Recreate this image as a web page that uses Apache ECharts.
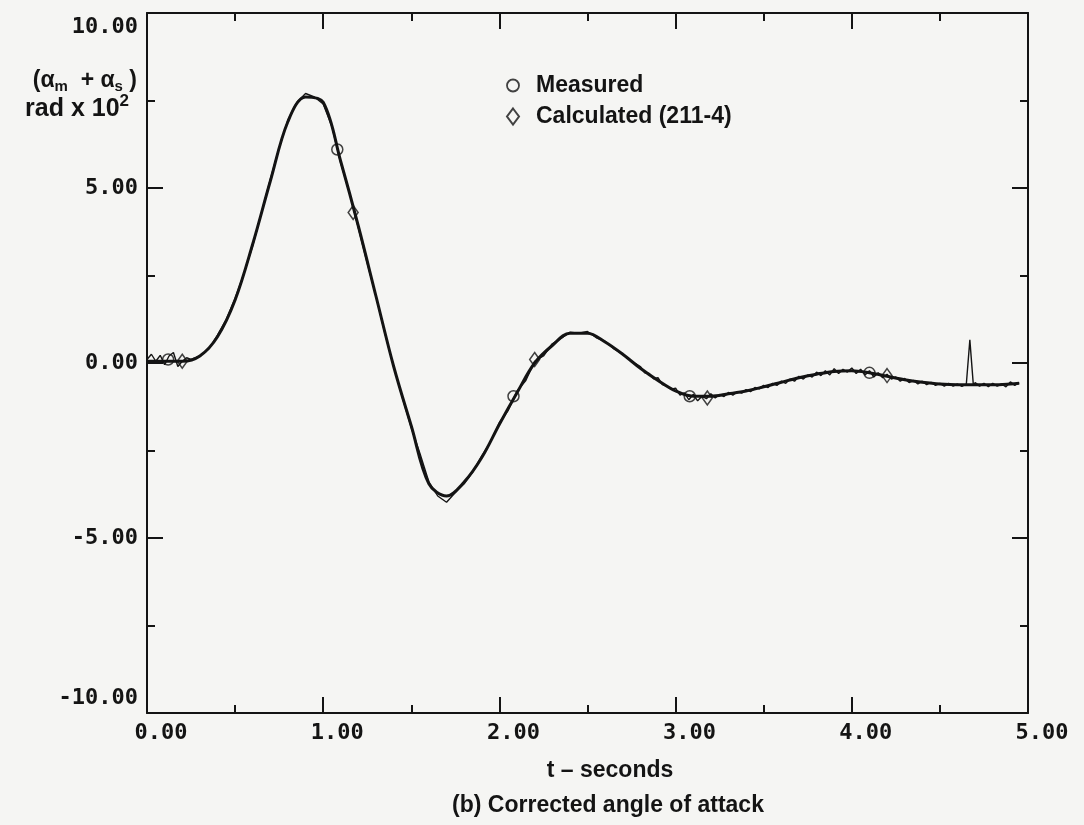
<!DOCTYPE html>
<html>
<head>
<meta charset="utf-8">
<script src="https://cdn.jsdelivr.net/npm/echarts@6/dist/echarts.min.js"></script>
<style>
  html, body { margin: 0; padding: 0; background: #f5f5f3; }
  #chart { width: 1084px; height: 825px; }
</style>
</head>
<body>
<div id="chart"></div>
<script>
// ---- data ----
const calcT = [0.0,0.1,0.2,0.3,0.4,0.5,0.6,0.7,0.8,0.9,1.0,1.1,1.2,1.3,1.4,1.5,1.6,1.7,1.8,1.9,2.0,2.1,2.2,2.3,2.4,2.5,2.6,2.7,2.8,2.9,3.0,3.1,3.2,3.3,3.4,3.5,3.6,3.7,3.8,3.9,4.0,4.1,4.2,4.3,4.4,4.5,4.6,4.7,4.8,4.9,4.95];
const calcV = [0.05,0.05,0.05,0.2,0.75,1.8,3.4,5.2,6.9,7.6,7.45,5.75,3.9,1.9,-0.1,-1.8,-3.45,-3.8,-3.4,-2.7,-1.75,-0.85,0.0,0.5,0.85,0.85,0.6,0.25,-0.15,-0.5,-0.8,-0.95,-0.95,-0.88,-0.8,-0.68,-0.55,-0.42,-0.32,-0.24,-0.22,-0.28,-0.38,-0.48,-0.55,-0.6,-0.62,-0.62,-0.62,-0.6,-0.58];

const measT = [0.000,0.025,0.050,0.075,0.100,0.125,0.150,0.175,0.200,0.225,0.250,0.30,0.35,0.40,0.45,0.50,0.55,0.60,0.65,0.70,0.75,0.80,0.85,0.90,0.95,
  1.00,1.05,1.10,1.15,1.20,1.25,1.30,1.35,1.40,1.45,1.50,1.55,1.60,1.65,1.70,1.75,1.80,1.85,1.90,1.95,
  2.00,2.05,2.10,2.15,2.20,2.25,2.30,2.35,2.40,2.45,2.50,2.55,2.60,2.65,2.70,2.75,
  2.800,2.825,2.850,2.875,2.900,2.925,2.950,2.975,3.000,3.025,3.050,3.075,3.100,3.125,3.150,3.175,3.200,3.225,3.250,3.275,
  3.300,3.325,3.350,3.375,3.400,3.425,3.450,3.475,3.500,3.525,3.550,3.575,3.600,3.625,3.650,3.675,3.700,3.725,3.750,3.775,
  3.800,3.825,3.850,3.875,3.900,3.925,3.950,3.975,4.000,4.025,4.050,4.075,4.100,4.125,4.150,4.175,4.200,4.225,4.250,4.275,
  4.300,4.325,4.350,4.375,4.400,4.425,4.450,4.475,4.500,4.525,4.550,4.575,4.600,4.625,4.650,4.670,4.690,4.700,4.725,4.750,
  4.775,4.800,4.825,4.850,4.875,4.900,4.925,4.950];
const measV = [0.10,0.25,0.05,0.22,-0.05,0.20,0.30,-0.10,0.05,0.15,0.10,0.20,0.40,0.80,1.25,1.85,2.55,3.35,4.30,5.25,6.15,6.95,7.45,7.70,7.60,
  7.40,6.75,5.70,4.85,3.85,2.85,1.90,0.85,-0.10,-1.00,-1.85,-2.60,-3.40,-3.80,-3.98,-3.70,-3.45,-3.10,-2.65,-2.25,
  -1.70,-1.35,-0.80,-0.50,0.05,0.20,0.55,0.70,0.88,0.85,0.90,0.72,0.62,0.40,0.25,0.05,
  -0.10,-0.28,-0.30,-0.45,-0.42,-0.62,-0.66,-0.75,-0.72,-0.92,-0.85,-1.05,-0.90,-1.08,-0.95,-1.02,-0.88,-1.00,-0.90,-0.96,
  -0.84,-0.92,-0.82,-0.86,-0.76,-0.82,-0.70,-0.74,-0.64,-0.70,-0.58,-0.64,-0.52,-0.58,-0.46,-0.52,-0.38,-0.46,-0.34,-0.40,
  -0.26,-0.36,-0.22,-0.34,-0.16,-0.30,-0.18,-0.26,-0.14,-0.30,-0.18,-0.34,-0.22,-0.40,-0.28,-0.42,-0.32,-0.46,-0.40,-0.52,
  -0.44,-0.56,-0.50,-0.60,-0.52,-0.62,-0.55,-0.64,-0.58,-0.66,-0.58,-0.66,-0.60,-0.67,-0.60,0.66,-0.64,-0.56,-0.66,-0.58,
  -0.68,-0.58,-0.66,-0.60,-0.68,-0.54,-0.64,-0.56];

const measMarkT = [0.12, 1.08, 2.08, 3.08, 4.10];
const measMarkV = [0.10, 6.10, -0.95, -0.95, -0.28];
const calcMarkT = [0.20, 1.17, 2.20, 3.18, 4.20];
const calcMarkV = [0.05, 4.30, 0.10, -1.00, -0.36];

const xTicks = { min: 0, max: 5, interval: 1 };
const yTicks = { min: -10, max: 10, interval: 5 };

const pairs = (a, b) => a.map((t, i) => [t, b[i]]);

const ink = '#141414';
const monoFont = '"DejaVu Sans Mono", monospace';
const sansFont = '"Liberation Sans", Arial, sans-serif';

const labelBase = { fontFamily: monoFont, fontWeight: 'bold', fontSize: 22, color: ink };

const axisCommon = {
  type: 'value',
  axisLine: { show: true, onZero: false, lineStyle: { color: ink, width: 2 } },
  axisTick: { show: true, inside: true, length: 16, lineStyle: { color: ink, width: 2 } },
  minorTick: { show: true, splitNumber: 2, length: 8, lineStyle: { color: ink, width: 2 } },
  splitLine: { show: false },
  minorSplitLine: { show: false }
};

const chart = echarts.init(document.getElementById('chart'), null, { renderer: 'canvas' });

chart.setOption({
  backgroundColor: '#f5f5f3',
  animation: false,
  grid: { left: 147, right: 56, top: 13, bottom: 112, containLabel: false },
  xAxis: [
    Object.assign({}, axisCommon, {
      min: xTicks.min, max: xTicks.max, interval: xTicks.interval, position: 'bottom',
      axisLabel: Object.assign({}, labelBase, {
        margin: 9, padding: [0, 0, 0, 28],
        formatter: v => v.toFixed(2)
      })
    }),
    Object.assign({}, axisCommon, {
      min: xTicks.min, max: xTicks.max, interval: xTicks.interval, position: 'top',
      axisLabel: { show: false }
    })
  ],
  yAxis: [
    Object.assign({}, axisCommon, {
      min: yTicks.min, max: yTicks.max, interval: yTicks.interval, position: 'left',
      axisLabel: Object.assign({}, labelBase, {
        margin: 9,
        formatter: v => {
          const s = v.toFixed(2);
          if (v === yTicks.max) return '{top|' + s + '}';
          if (v === yTicks.min) return '{bot|' + s + '}';
          return s;
        },
        rich: {
          top: Object.assign({}, labelBase, { padding: [28, 0, 0, 0] }),
          bot: Object.assign({}, labelBase, { padding: [0, 0, 30, 0] })
        }
      })
    }),
    Object.assign({}, axisCommon, {
      min: yTicks.min, max: yTicks.max, interval: yTicks.interval, position: 'right',
      axisLabel: { show: false }
    })
  ],
  legend: {
    orient: 'vertical',
    left: 501, top: 69,
    itemWidth: 12, itemHeight: 16, itemGap: 8,
    textStyle: { fontFamily: sansFont, fontWeight: 'bold', fontSize: 23, color: ink, padding: [0, 0, 0, 12] },
    data: [
      { name: 'Measured', icon: 'circle', itemStyle: { color: 'rgba(0,0,0,0)', borderColor: ink, borderWidth: 1.8 } },
      { name: 'Calculated (211-4)', icon: 'diamond', itemStyle: { color: 'rgba(0,0,0,0)', borderColor: ink, borderWidth: 2 } }
    ]
  },
  series: [
    {
      name: 'measured trace', type: 'line', data: pairs(measT, measV),
      showSymbol: false, smooth: false,
      lineStyle: { color: ink, width: 1.4 }, z: 3
    },
    {
      name: 'calculated trace', type: 'line', data: pairs(calcT, calcV),
      showSymbol: false, smooth: 0.35,
      lineStyle: { color: ink, width: 3 }, z: 2
    },
    {
      name: 'Measured', type: 'scatter', data: pairs(measMarkT, measMarkV),
      symbol: 'circle', symbolSize: 11,
      itemStyle: { color: 'rgba(0,0,0,0)', borderColor: ink, borderWidth: 1.5 }, z: 4
    },
    {
      name: 'Calculated (211-4)', type: 'scatter', data: pairs(calcMarkT, calcMarkV),
      symbol: 'diamond', symbolSize: [10, 14],
      itemStyle: { color: 'rgba(0,0,0,0)', borderColor: ink, borderWidth: 1.5 }, z: 4
    }
  ],
  graphic: [
    {
      type: 'text', x: 137, y: 81,
      style: {
        text: '(α{sub|m}  + α{sub|s} )',
        font: 'bold 23px ' + sansFont, fill: ink, textAlign: 'right', textVerticalAlign: 'middle', lineHeight: 26,
        rich: { sub: { fontFamily: sansFont, fontWeight: 'bold', fontSize: 15, fill: ink, verticalAlign: 'bottom', lineHeight: 15 } }
      }
    },
    {
      type: 'text', x: 129, y: 109,
      style: {
        text: 'rad x 10{sup|2}',
        font: 'bold 25px ' + sansFont, fill: ink, textAlign: 'right', textVerticalAlign: 'middle', lineHeight: 32,
        rich: { sup: { fontFamily: sansFont, fontWeight: 'bold', fontSize: 17, fill: ink, verticalAlign: 'top', lineHeight: 17 } }
      }
    },
    {
      type: 'text', x: 610, y: 771,
      style: { text: 't – seconds', font: 'bold 23px ' + sansFont, fill: ink, textAlign: 'center', textVerticalAlign: 'middle' }
    },
    {
      type: 'text', x: 608, y: 806,
      style: { text: '(b) Corrected angle of attack', font: 'bold 23px ' + sansFont, fill: ink, textAlign: 'center', textVerticalAlign: 'middle' }
    }
  ]
});
</script>
</body>
</html>
